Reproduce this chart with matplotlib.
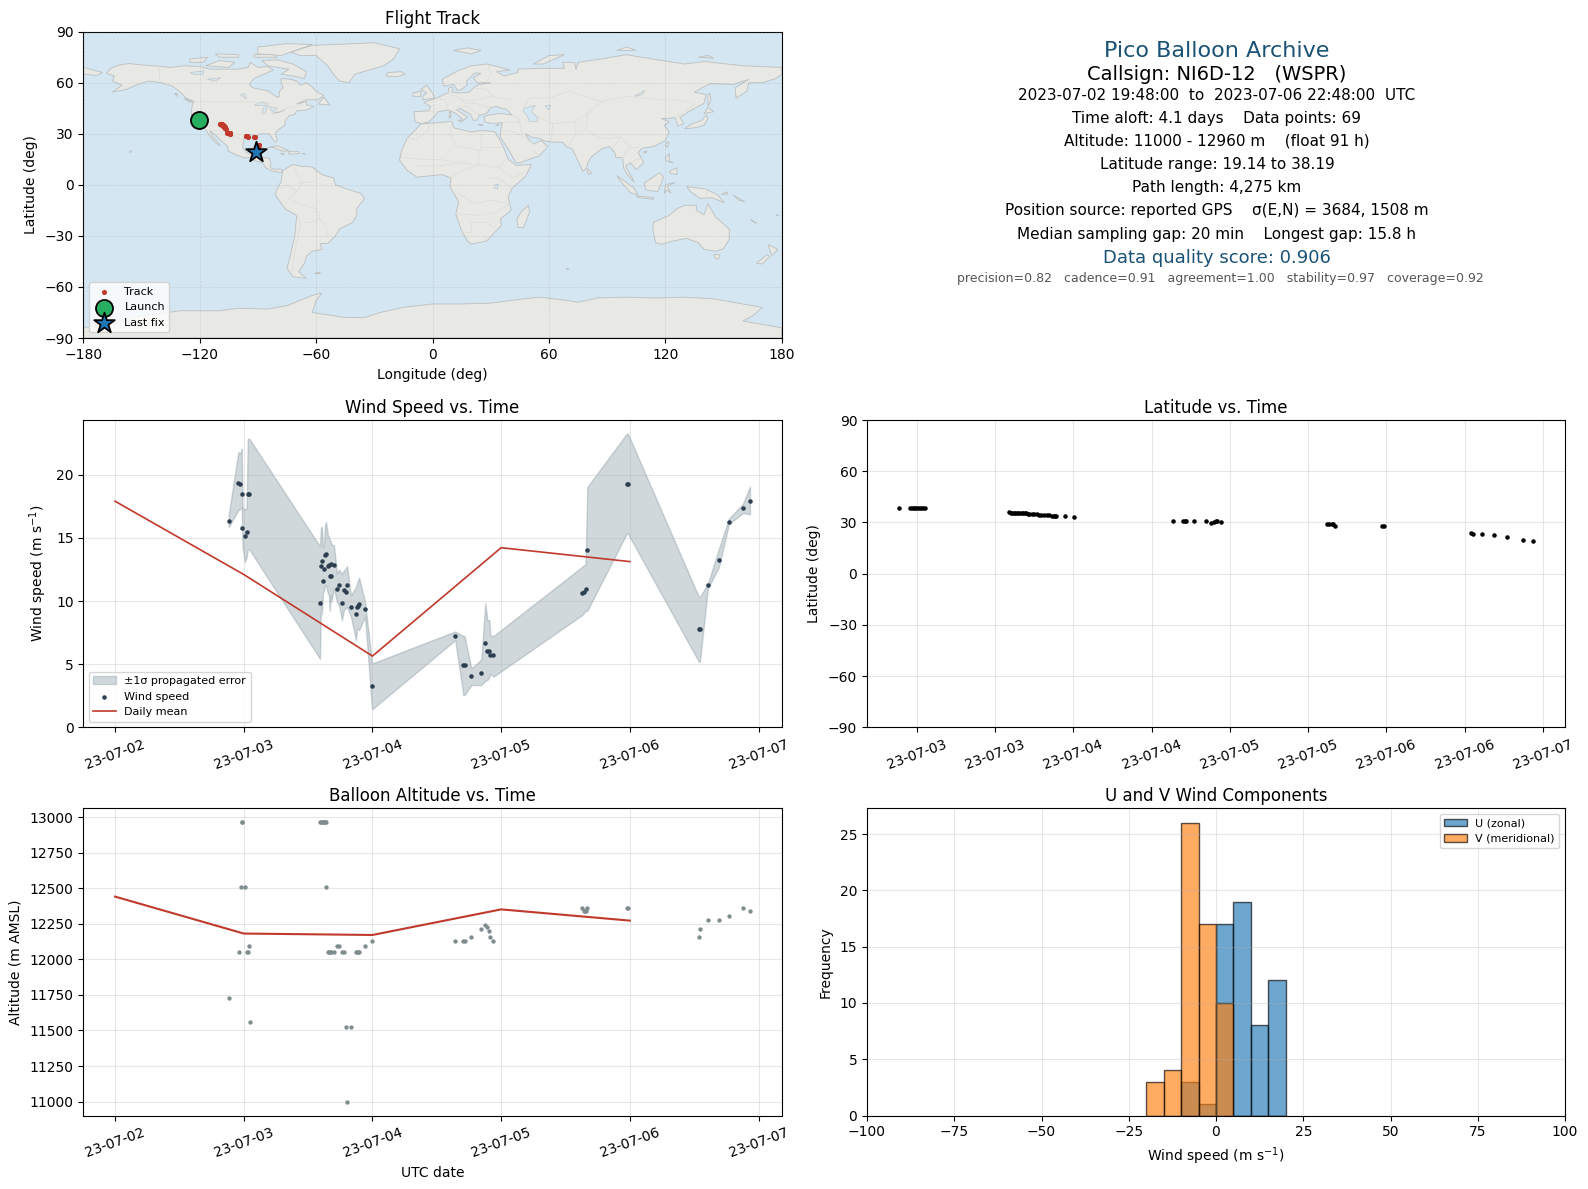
import numpy as np
import matplotlib
matplotlib.use("Agg")
import matplotlib.pyplot as plt
import matplotlib.dates as mdates
from datetime import datetime

plt.rcParams["axes.titlepad"] = 5.2
plt.rcParams["axes.labelpad"] = 4.8

# ---------- data (times are fractional day of July 2023) ----------
wind_days = [2.883,2.958,2.974,2.984,2.990,3.008,3.023,3.031,3.044,
 3.592,3.600,3.607,3.615,3.623,3.631,3.639,3.654,3.662,3.667,3.678,3.680,3.701,3.724,3.740,3.763,3.779,3.792,3.802,3.833,3.872,3.880,3.888,3.896,3.942,3.997,
 4.643,4.706,4.716,4.768,4.846,4.877,4.893,4.908,4.916,4.939,
 5.628,5.643,5.656,5.669,5.975,5.985,6.536,6.544,6.606,6.692,6.769,6.879,6.933]
wind_speed = [16.36,19.36,19.28,18.5,15.8,15.17,15.49,18.5,18.5,
 9.88,12.8,13.2,11.6,12.56,13.67,13.75,12.78,12.83,12.0,12.93,12.0,12.88,10.98,11.3,9.88,10.9,10.75,11.3,9.56,9.0,9.53,9.6,9.8,9.4,3.24,
 7.19,4.9,4.9,4.03,4.27,6.64,6.08,6.08,5.69,5.69,
 10.67,10.75,10.98,14.07,19.29,19.29,7.82,7.82,11.3,13.28,16.28,17.38,17.94]
wind_upper = [16.83,21.79,21.71,22.05,17.39,17.23,17.39,22.84,22.84,
 14.33,15.81,15.86,14.23,14.28,15.99,16.25,15.2,15.07,14.86,14.67,14.49,14.41,12.17,12.49,12.12,12.43,12.56,12.77,10.46,11.11,11.38,11.64,11.85,9.93,5.05,
 7.59,7.22,7.22,4.66,5.37,9.85,8.48,8.48,7.3,7.22,
 12.7,12.83,12.9,19.02,23.24,23.24,10.33,10.33,11.38,14.14,16.52,17.7,19.07]
wind_lower = [15.86,17.18,17.31,17.39,14.41,13.09,13.49,14.07,14.07,
 5.43,10.06,8.95,10.59,10.85,11.25,11.25,10.6,10.46,9.22,10.46,9.93,10.98,9.93,9.67,8.48,9.32,9.41,9.54,8.74,6.9,7.82,7.82,7.69,8.74,1.42,
 6.9,2.55,2.55,3.34,3.34,3.69,3.74,3.95,4.27,4.0,
 8.88,9.06,9.22,9.22,15.33,15.33,5.19,5.19,10.98,12.7,16.07,16.97,16.86]

mean_days = [2,3,4,5,6]
wind_daily_mean = [17.9,12.1,5.64,14.22,13.12]
alt_daily_mean = [12442,12182,12172,12352,12273]

alt_days = [2.883,2.961,2.977,2.984,2.988,3.008,3.023,3.034,3.039,3.047,
 3.592,3.600,3.607,3.615,3.623,3.631,3.639,3.639,
 3.654,3.662,3.667,3.678,3.701,3.724,3.740,3.763,3.779,3.794,3.802,3.833,3.872,3.880,3.888,3.896,3.942,3.997,
 4.643,4.706,4.716,4.768,4.846,4.877,4.893,4.908,4.916,4.939,
 5.628,5.643,5.650,5.656,5.669,5.975,5.985,6.536,6.544,6.606,6.692,6.769,6.879,6.933]
alt_m = [11732,12049,12507,12965,12965,12507,12049,12049,12091,11563,
 12965,12965,12965,12965,12965,12965,12965,12507,
 12049,12049,12049,12049,12049,12091,12091,12049,12049,11521,11000,11521,12049,12049,12049,12049,12091,12133,
 12133,12133,12133,12155,12211,12239,12225,12197,12155,12133,
 12359,12338,12338,12338,12359,12359,12359,12155,12211,12274,12274,12303,12359,12338]

lat_days = [2.885,2.957,2.968,2.980,2.992,3.004,3.016,3.028,3.040,3.055,
 3.591,3.600,3.610,3.620,3.630,3.640,3.650,3.660,3.670,3.680,3.690,3.700,3.710,3.720,3.735,3.750,3.765,3.780,3.795,3.810,3.830,3.845,3.865,3.875,3.885,3.892,3.945,4.002,
 4.640,4.702,4.712,4.719,4.768,4.847,4.879,4.896,4.910,4.920,4.943,
 5.623,5.636,5.650,5.662,5.673,5.974,5.987,
 6.540,6.550,6.612,6.688,6.771,6.873,6.938]
lat_deg = [38.19,38.2,38.2,38.2,38.2,38.2,38.2,38.2,38.2,38.2,
 35.9,35.8,35.7,35.6,35.6,35.5,35.5,35.5,35.4,35.4,35.3,35.3,35.2,35.1,34.9,34.8,34.7,34.6,34.6,34.4,34.2,34.1,33.8,33.7,33.6,33.5,33.5,32.9,
 30.6,30.6,30.6,30.6,30.6,30.6,29.8,30.2,30.6,30.6,30.0,
 28.8,28.8,28.8,28.8,28.2,28.2,28.2,
 23.6,23.5,23.0,22.4,21.2,20.0,19.4]
track_lon = [-120.2,-119.6,-119.4,-119.2,-119.0,-118.8,-118.6,-118.4,-118.2,-118.0,
 -109.4,-109.3,-109.2,-109.1,-109.0,-108.9,-108.8,-108.7,-108.6,-108.5,-108.4,-108.3,-108.2,-108.1,-108.0,-107.9,-107.8,-107.7,-107.6,-107.5,-107.4,-107.3,-107.2,-107.1,-107.0,-106.9,-106.8,-106.6,
 -105.8,-105.6,-105.4,-105.2,-105.0,-104.8,-104.6,-104.5,-104.4,-104.3,-104.2,
 -96.2,-96.0,-95.7,-95.4,-95.1,-91.9,-91.7,
 -89.6,-89.6,-89.7,-89.8,-90.0,-90.2,-90.6]
launch_lon, launch_lat = -120.2, 38.19
last_lon, last_lat = -90.8, 19.14

hist_edges = [-20,-15,-10,-5,0,5,10,15,20]
u_counts = [0,0,3,1,17,19,8,12]
v_counts = [3,4,26,17,10,0,0,0]

info_lines = [
 ("Pico Balloon Archive", 16, "#1a5276", 51.4, 1217),
 ("Callsign: NI6D-12   (WSPR)", 14, "black", 74, 1217),
 ("2023-07-02 19:48:00  to  2023-07-06 22:48:00  UTC", 11, "black", 95.5, 1217),
 ("Time aloft: 4.1 days    Data points: 69", 11, "black", 118.5, 1217),
 ("Altitude: 11000 - 12960 m    (float 91 h)", 11, "black", 141.5, 1217),
 ("Latitude range: 19.14 to 38.19", 11, "black", 164.5, 1217),
 ("Path length: 4,275 km", 11, "black", 187.5, 1217),
 ("Position source: reported GPS    \u03c3(E,N) = 3684, 1508 m", 11, "black", 210.5, 1217),
 ("Median sampling gap: 20 min    Longest gap: 15.8 h", 11, "black", 234, 1216.5),
 ("Data quality score: 0.906", 13, "#1a5276", 258, 1217),
 ("precision=0.82   cadence=0.91   agreement=1.00   stability=0.97   coverage=0.92", 9, "#555555", 278.5, 1220),
]

# ---------- coarse world outline (lon, lat) ----------
north_america = [(-168,65.5),(-166,68.3),(-162,70.3),(-156.5,71.3),(-150,70.5),(-141,69.7),(-135,69),(-128,70),(-120,69.5),(-115,68),(-108,68),(-100,68),(-95,69),(-94,72),(-90,69),(-85,69.5),(-82,67.5),(-87,65),(-92,62.5),(-94.5,59),(-92.5,57),(-85,55.3),(-82,53),(-80,51.3),(-79,52),(-79,55),(-77,57),(-78,60),(-78,62.5),(-73,62),(-70,61),(-68,58.5),(-65,60),(-62,57.5),(-60,55),(-56,52.5),(-59,50),(-65,50),(-70,47.5),(-65,49),(-65,47),(-61,46),(-65,44),(-70,43.5),(-71,41.5),(-74,40.5),(-76,37.5),(-76,35),(-80,32),(-81,30),(-80,26),(-81,25),(-83,28),(-84,30),(-89,30),(-90,29),(-94,29.5),(-97,28),(-97.5,25),(-97.8,22),(-96,19),(-94,18),(-91,18.7),(-90.5,21),(-87,21.5),(-88,18),(-88.5,16),(-84,15.8),(-83.3,12),(-83.5,10),(-81,9),(-79,9.5),(-77,8.5),(-78,7.5),(-80,7.5),(-83,8.3),(-86,10),(-87.5,13),(-91,14),(-94,16),(-97,15.8),(-102,18),(-105.5,20),(-105.5,22.5),(-109,26),(-112.5,30),(-114.8,31.7),(-113,28),(-110,24),(-109.5,23),(-112,25),(-115,29),(-117,32.5),(-120.5,34.5),(-122.5,37.5),(-124.3,40.5),(-124,46),(-123,49),(-127,51),(-130,54.5),(-134,58),(-140,60),(-146,61),(-152,59),(-158,56),(-165,54.5),(-160,58.5),(-165,61),(-164,64),(-168,65.5)]
greenland = [(-73,78),(-68,76),(-60,76),(-54,70),(-51,65),(-48,61),(-43,60),(-40,65),(-25,70),(-20,74),(-17,80),(-30,83.5),(-50,82.5),(-62,82),(-73,78)]
south_america = [(-77,8.5),(-72,12),(-68,11),(-62,10.5),(-57,6),(-51,4),(-50,0),(-44,-2.5),(-37,-5),(-35,-8),(-39,-14),(-39,-18),(-41,-22),(-48,-26),(-50,-30),(-54,-34.5),(-58,-34.5),(-57,-38),(-62,-39),(-65,-42),(-66,-46),(-69,-51),(-65,-55),(-72,-54),(-75,-49),(-73,-40),(-71,-30),(-70,-18),(-76,-14),(-81,-6),(-80,-2),(-78,2),(-77.5,7),(-77,8.5)]
africa = [(-6,35.8),(10,37.2),(11,33.5),(20,31),(25,32),(32,31.3),(34,28),(37,21),(39,15),(43,11.5),(51,12),(48,5),(41,-2),(39,-7),(40.5,-15),(35,-20),(35.5,-24),(32.8,-27),(28,-33),(20,-34.8),(18,-33),(15,-27),(12,-17),(13.5,-10),(9,-1),(9.5,4),(5,6),(-4,5),(-8,4.5),(-13,8.5),(-17,14.5),(-16,20),(-13,27.5),(-9.5,31.5),(-6,35.8)]
eurasia = [(-9,37),(-9.5,43),(-2,43.5),(-1,46),(-4.5,48.5),(2,51),(8,54),(8.5,57),(10.5,57.5),(10,54.5),(14,54),(19,54.5),(21,57),(24,59),(30,60),(23,60),(21,63),(25,65.5),(22,65.8),(17.5,61),(18,59),(15,56),(12.8,55.5),(11,59),(6,58),(5,62),(13,67),(20,70),(28,71),(40,67.5),(33,66.5),(37,64),(44,66),(44,68),(55,68.5),(68,68.5),(67,72),(73,72),(74,68),(75,72),(87,74),(100,76.5),(113,74),(130,71),(140,72.5),(160,70),(170,69.5),(180,69),(180,65),(177,62.5),(170,60),(163,60),(162,55),(156.5,51),(156,57),(163,62),(155,59),(143,59.5),(135,54.5),(141,53),(140,48),(132,43),(127.5,39.5),(129.5,36),(126.5,34.5),(125,39.5),(121,39),(118,39),(122,37),(119.5,35),(122,31),(120,26),(114,22.5),(108,21.5),(106,19),(109,13),(105,9),(102,13),(99.5,11),(103,4),(104,1.5),(100.5,6),(98.5,10),(98,16),(94.5,16),(94,19),(91,22.5),(87,21),(82,16.5),(80,13),(79.5,10),(77.5,8),(73,19),(72,21),(69,22.5),(67,25),(61,25.2),(57,26),(56,27),(51,28),(48,30),(50,26),(52,24),(56,26),(59.5,22.5),(55,17),(45,13),(43,13),(39,21),(35,28),(35,31.5),(36,36.5),(30,36.2),(27,37),(26.5,40),(29,41),(35,42),(41,41),(38,44.5),(35.5,45),(33,46),(30,45.5),(28,42),(24,40.8),(23,38),(21,38),(19.5,41.5),(14,45),(12.5,44),(18,40),(16,38),(12,42),(8,44),(3,43),(0,39),(-2,37),(-5.5,36),(-9,37)]
chukotka_west = [(-180,69),(-175,67.5),(-170,66),(-173,64.3),(-180,65)]
australia = [(114,-22),(122,-18),(126,-14),(130,-12),(136,-12),(136,-15),(140,-17.5),(142,-11),(146,-19),(153,-26),(153,-32),(150,-37.5),(146,-39),(140,-38),(137,-34),(131,-31.5),(124,-33),(118,-35),(115,-34),(113.5,-26),(114,-22)]
antarctica = [(-180,-84),(-160,-80),(-150,-77),(-130,-74),(-110,-74),(-100,-72.5),(-85,-73),(-75,-71),(-62,-65),(-57,-63.5),(-60,-68),(-62,-75),(-45,-78),(-35,-78),(-27,-75),(-15,-72),(0,-70),(15,-70),(30,-69.5),(40,-68),(55,-66),(70,-68),(75,-69),(85,-66.5),(100,-66),(115,-66.5),(130,-66),(145,-67),(160,-70),(170,-72),(165,-77),(160,-80),(180,-84),(180,-90),(-180,-90)]
islands = [
 [(-80,73.5),(-72,71),(-65,66.5),(-66,62.5),(-72,64),(-78,65),(-74,68),(-85,70),(-88,73)],
 [(-117,70),(-105,69),(-102,72),(-110,73)],
 [(-90,77),(-78,76),(-62,82.5),(-75,83),(-90,81)],
 [(-125,72),(-118,72),(-116,75),(-125,74)],
 [(-92,75),(-80,75),(-82,76.5),(-92,76.5)],
 [(-110,75),(-100,75),(-100,76.5),(-112,77)],
 [(-59,47.5),(-53,47),(-56,51.5)],
 [(-85,22),(-80,23),(-74,20),(-77.5,19.8),(-82,22)],
 [(-74,19.5),(-69,19.5),(-68.5,18.3),(-74,18)],
 [(-78.3,18.4),(-76.3,18.2),(-77,17.8)],
 [(-67.2,18.4),(-65.7,18.4),(-66,18)],
 [(-128,50.8),(-124,49),(-123.5,48.4),(-125.5,48.8)],
 [(-133,54),(-131.5,54),(-131.5,52.5)],
 [(-156,19),(-155,19.5),(-155.8,20.2)],
 [(-61,-52),(-58,-51.3),(-58,-52.2)],
 [(-5,50),(1,51),(0,54),(-3,58.5),(-6,56),(-3,54),(-5,52)],
 [(-10,52),(-6,52),(-6,55),(-10,54)],
 [(-24,64),(-19,63.4),(-14,65),(-16,66.5),(-23,66)],
 [(11,79),(20,77),(25,79),(18,80.5)],
 [(52,71),(57,71),(68,76.5),(60,76)],
 [(95,79),(105,79),(100,81)],
 [(137,75),(145,74.5),(142,76)],
 [(142,46),(143.5,50),(143,54),(142,53),(142,49)],
 [(130,33),(135,33.5),(140,35),(142,39),(141,41),(139,38),(133,35.5)],
 [(140,42),(145,43),(142,45.5)],
 [(120,23),(121,22),(122,25),(121,25)],
 [(108.7,19.3),(110.5,20),(110,18.5)],
 [(120,16),(122,18.5),(122,14),(124,13),(120.5,14)],
 [(122,7),(126,6),(126,10),(123,8.5)],
 [(109,1),(117,7),(119,5),(118,1),(116,-4),(110,-3)],
 [(95,5.5),(104,-2),(106,-6),(102,-4.5),(97,2)],
 [(105,-6.5),(114,-7.5),(114,-8.5),(106,-7.5)],
 [(119.5,-5),(120,0),(125,1.5),(121,-1),(123,-5),(121,-3)],
 [(131,-1),(141,-2.5),(147,-6),(150.5,-10.5),(144,-7.5),(138,-8),(133,-4)],
 [(149,-5.5),(152,-4.2),(152,-5.5)],
 [(155,-6),(158,-8),(161,-10),(158,-9)],
 [(80,9.5),(82,7),(80.5,6),(79.8,8)],
 [(49.5,-12),(50,-16),(47,-25),(44,-25),(43.5,-20),(46,-15.5)],
 [(145,-41),(148,-41),(147.5,-43.5),(146,-43.5)],
 [(173,-35),(178,-38),(175,-41.5),(174,-39)],
 [(172.5,-41),(174,-42),(170,-46.5),(167,-46)],
 [(164,-20.5),(167,-22.5),(166,-22)],
 [(177.2,-17.5),(178.5,-18),(177.5,-18.3)],
 [(69,-49),(70.5,-49.5),(69.5,-49.8)],
 [(9,39),(9.7,41),(8.4,40.5)],
 [(13,38),(15.5,38),(15,36.8)],
 [(8.6,43),(9.5,42.7),(9.2,41.4)],
 [(23.5,35.5),(26,35.2),(25,34.9)],
 [(32.5,35),(34.5,35.6),(33.5,34.7)],
]
inland_water = [
 [(47,45),(53,46.8),(51,43),(54,40),(54,37),(50,37.3),(49,40),(47,43)],
 [(-92,46.8),(-88,48.8),(-85,47.8),(-84.7,46.5),(-88,46.7)],
 [(-88,42),(-87,45.5),(-85,46),(-86.3,42)],
 [(-84,46),(-80,45),(-82,43),(-83.5,44)],
 [(-83,42),(-79,43),(-76,44),(-79,42.5)],
 [(-125,66),(-118,67),(-118,65),(-123,65)],
 [(-116,62),(-109,63),(-112,61)],
 [(-99,53),(-96,50.5),(-97,53.8)],
 [(58,46.5),(61,46.5),(60,44)],
 [(104,52),(109.5,55.5),(108,53)],
 [(32,0),(34,0.5),(33.5,-2.5),(32,-2)],
]
borders = [
 [(-123,49),(-95,49),(-88,48),(-83,46),(-79,43),(-75,45),(-67,47)],
 [(-141,69.7),(-141,60)],
 [(-117,32.5),(-108,31.5),(-104,29.5),(-97.5,26)],
 [(-92,15),(-91,18),(-88.5,18)],
 [(-72,12),(-67,1),(-70,-4),(-74,-8),(-69,-11),(-60,-14),(-58,-20),(-55,-25),(-54,-30)],
 [(-70,-18),(-68,-23),(-70,-33),(-72,-47),(-72,-52)],
 [(-60,8),(-60,2),(-70,1)],
 [(-81,-3),(-75,0),(-70,-4)],
 [(-58,-20),(-62,-22),(-66,-22)],
 [(-2,35),(-2,32),(-8,27),(-13,27.5)],
 [(10,37),(9,30),(12,23),(25,20),(25,32)],
 [(25,22),(36,22)],
 [(-16,16),(-5,15),(3,15),(14,13),(24,12),(24,20)],
 [(-8,11),(-3,11),(3,11),(14,13)],
 [(9,4),(15,8),(24,12)],
 [(24,12),(34,10),(38,15)],
 [(34,10),(42,4),(48,8)],
 [(30,4),(34,4),(41,-2)],
 [(13,-5),(22,-11),(30,-9),(39,-11)],
 [(12,-17),(24,-18),(33,-16),(40,-11)],
 [(15,-28),(20,-28),(20,-22),(28,-22),(32,-26)],
 [(-2,43.5),(3,42.5)],[(2,51),(6,50),(8,47),(7,44)],[(8,54),(14,51),(19,49.5),(24,50),(30,52),(40,50)],
 [(14,51),(17,48),(22,48),(29,45.5)],[(13,46),(19,46),(22,42),(26,41)],
 [(28,60),(30,65),(29,70)],[(21,57),(28,56),(31,52)],
 [(36,36.5),(45,37),(44,39),(41,41)],[(45,37),(46,30),(48,30)],[(35,31.5),(39,32),(46,29),(52,24)],[(52,20),(55,17)],
 [(47,45),(50,51),(60,51),(70,55),(87,49)],[(54,40),(62,36),(73,37),(80,42),(87,49)],
 [(87,49),(100,52),(117,50),(127,50),(135,48),(131,43)],
 [(80,42),(79,32),(88,27),(97,28),(102,22),(106,22)],
 [(62,36),(61,25)],[(73,37),(74,30),(70,23)],[(97,28),(93,22)],[(98,16),(100,20),(102,22)],[(102,13),(105,15),(107,15)],
 [(141,-2.5),(141,-9)],
 [(125,39.5),(129,42)],
]


def d2n(days):
    base = mdates.date2num(datetime(2023, 7, 1))
    return base + np.asarray(days, dtype=float) - 1.0


W, H = 1588.0, 1189.0
def axes_px(l, t, r, b):
    return fig.add_axes([l / W, 1 - b / H, (r - l) / W, (b - t) / H])

fig = plt.figure(figsize=(15.88, 11.89), dpi=100)

LEFT = (83.3, 781.7)
RIGHT = (867.0, 1565.0)

GREY_BAND = "#7b9099"
RED = "#c0392b"

# ---------- map ----------
ax = axes_px(LEFT[0], 31.7, LEFT[1], 338)
ax.set_facecolor("#d4e6f1")
LAND = "#e8e8e4"
COAST = "#bcbfc0"
for poly in [north_america, greenland, south_america, africa, eurasia, chukotka_west, australia, antarctica] + islands:
    xs, ys = zip(*poly)
    ax.fill(xs, ys, facecolor=LAND, edgecolor=COAST, lw=0.6, zorder=1)
for poly in inland_water:
    xs, ys = zip(*poly)
    ax.fill(xs, ys, facecolor="#d4e6f1", edgecolor=COAST, lw=0.4, zorder=1.1)
for line in borders:
    xs, ys = zip(*line)
    ax.plot(xs, ys, color="#dcdcd8", lw=0.5, zorder=1.2)
ax.set_axisbelow(False)
ax.grid(True, color="gray", ls="--", lw=0.5, alpha=0.22)
ax.scatter(track_lon, lat_deg, s=7, color=RED, zorder=5, label="Track")
ax.scatter([launch_lon], [launch_lat], s=150, color="#27ae60", edgecolor="black", lw=1.3, zorder=6, label="Launch")
ax.scatter([last_lon], [last_lat], s=240, marker="*", color="#1f77b4", edgecolor="black", lw=1.3, zorder=7, label="Last fix")
ax.set_xlim(-180, 180)
ax.set_ylim(-90, 90)
ax.set_xticks(np.arange(-180, 181, 60))
ax.set_yticks(np.arange(-90, 91, 30))
ax.set_xlabel("Longitude (deg)")
ax.set_ylabel("Latitude (deg)")
ax.set_title("Flight Track")
ax.legend(loc="lower left", fontsize=8, framealpha=0.8)

# ---------- info text ----------
for txt, size, color, ypx, xpx in info_lines:
    fig.text(xpx / W, 1 - ypx / H, txt, fontsize=size, color=color, ha="center", va="center")

date_fmt = mdates.DateFormatter("%y-%m-%d")


def style_time(a):
    a.xaxis_date()
    a.xaxis.set_major_locator(mdates.AutoDateLocator())
    a.xaxis.set_major_formatter(date_fmt)
    a.tick_params(axis="x", labelrotation=20)
    a.grid(True, alpha=0.3)


# ---------- wind ----------
ax = axes_px(LEFT[0], 420, LEFT[1], 727.3)
ax.fill_between(d2n(wind_days), wind_lower, wind_upper, color=GREY_BAND, alpha=0.35, label="\u00b11\u03c3 propagated error")
ax.scatter(d2n(wind_days), wind_speed, s=5, color="#2c3e50", zorder=4, label="Wind speed")
ax.plot(d2n(mean_days), wind_daily_mean, color=RED, lw=1.2, label="Daily mean")
ax.set_ylim(bottom=0)
ax.set_ylabel("Wind speed (m s$^{-1}$)")
ax.set_title("Wind Speed vs. Time")
style_time(ax)
ax.legend(loc="lower left", fontsize=8, framealpha=0.8)

# ---------- latitude ----------
ax = axes_px(RIGHT[0], 420, RIGHT[1], 727.3)
ax.scatter(d2n(lat_days), lat_deg, s=5, color="black", zorder=4)
ax.set_ylim(-90, 90)
ax.set_yticks(np.arange(-90, 91, 30))
ax.set_ylabel("Latitude (deg)")
ax.set_title("Latitude vs. Time")
style_time(ax)

# ---------- altitude ----------
ax = axes_px(LEFT[0], 808.3, LEFT[1], 1115.5)
ax.scatter(d2n(alt_days), alt_m, s=4.5, color="#7f8c8d", zorder=4)
ax.plot(d2n(mean_days), alt_daily_mean, color=RED, lw=1.5)
ax.set_xlabel("UTC date")
ax.set_ylabel("Altitude (m AMSL)")
ax.set_title("Balloon Altitude vs. Time")
style_time(ax)

# ---------- histogram ----------
ax = axes_px(RIGHT[0], 808.3, RIGHT[1], 1115.5)
centres = np.array(hist_edges[:-1]) + 2.5
ax.hist(centres, bins=hist_edges, weights=u_counts, color="#1f77b4", alpha=0.65, edgecolor="black", label="U (zonal)")
ax.hist(centres, bins=hist_edges, weights=v_counts, color="#ff7f0e", alpha=0.65, edgecolor="black", label="V (meridional)")
ax.set_xlim(-100, 100)
ax.set_xlabel("Wind speed (m s$^{-1}$)")
ax.set_ylabel("Frequency")
ax.set_title("U and V Wind Components")
ax.grid(True, alpha=0.3)
ax.legend(loc="upper right", fontsize=8)

fig.savefig("out.png", dpi=100)
